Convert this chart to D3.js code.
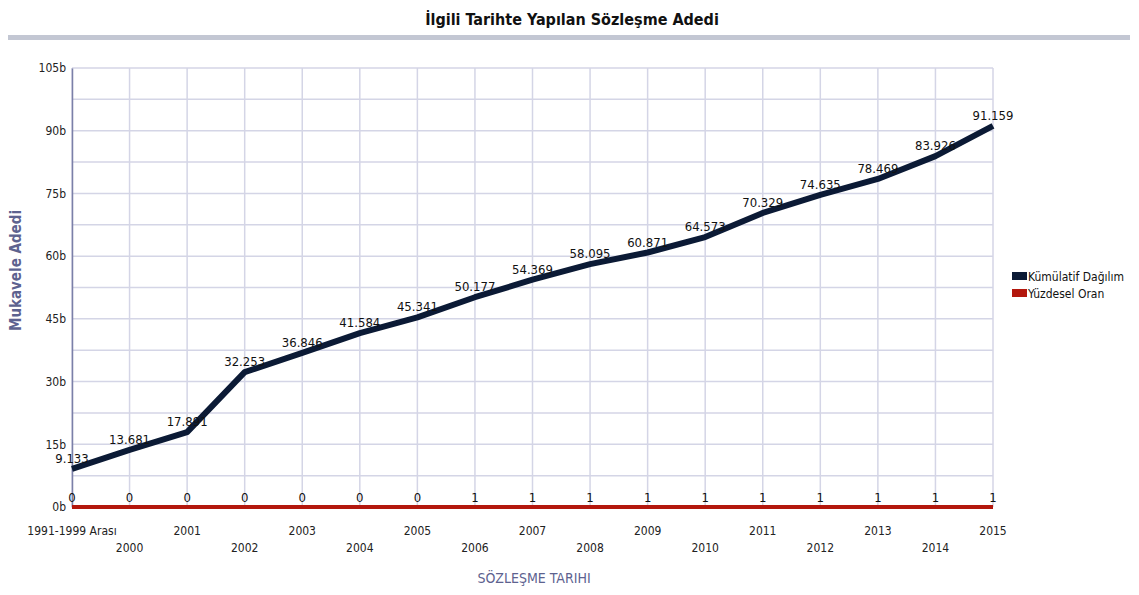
<!DOCTYPE html>
<html>
<head>
<meta charset="utf-8">
<script src="https://cdn.jsdelivr.net/npm/d3@7"></script>
<style>
  body { margin: 0; background: #fff; }
  text { font-family: "DejaVu Sans Condensed", "Liberation Sans Narrow", "Liberation Sans", Arial, sans-serif; font-stretch: condensed; }
  .tick text { font-size: 12px; fill: #222; }
</style>
</head>
<body>
<div id="chart"></div>
<script>
// Chart data
var categories = ["1991-1999 Arası", "2000", "2001", "2002", "2003", "2004", "2005", "2006",
  "2007", "2008", "2009", "2010", "2011", "2012", "2013", "2014", "2015"];
var kumulatif = [9133, 13681, 17891, 32253, 36846, 41584, 45341, 50177, 54369,
  58095, 60871, 64573, 70329, 74635, 78469, 83926, 91159];
var yuzdesel = [0, 0, 0, 0, 0, 0, 0, 1, 1, 1, 1, 1, 1, 1, 1, 1, 1];
var yTicks = [0, 15000, 30000, 45000, 60000, 75000, 90000, 105000];
var yTickLabels = ["0b", "15b", "30b", "45b", "60b", "75b", "90b", "105b"];
var seriesNames = ["Kümülatif Dağılım", "Yüzdesel Oran"];

var svgWidth = 1139;
var svgHeight = 595;
var margin = { top: 68, right: 146, bottom: 88, left: 72 };
var width = svgWidth - margin.left - margin.right;
var height = svgHeight - margin.top - margin.bottom;

var svg = d3.select("#chart")
  .append("svg")
  .attr("width", svgWidth)
  .attr("height", svgHeight);

// title + grey bar
svg.append("text")
  .attr("x", 572)
  .attr("y", 25)
  .attr("text-anchor", "middle")
  .style("font-size", "16px")
  .style("font-weight", "bold")
  .attr("fill", "#111")
  .text("İlgili Tarihte Yapılan Sözleşme Adedi");

svg.append("rect")
  .attr("x", 8).attr("y", 35)
  .attr("width", 1122).attr("height", 5)
  .attr("fill", "#c3c7d3");

var chartGroup = svg.append("g")
  .attr("transform", `translate(${margin.left}, ${margin.top})`);

var xScale = d3.scalePoint()
  .domain(categories)
  .range([0, width]);

var yScale = d3.scaleLinear()
  .domain([0, 105000])
  .range([height, 0]);

// gridlines (minor every 7.5b)
var gridVals = d3.range(0, 105001, 7500);
chartGroup.selectAll(".hgrid")
  .data(gridVals)
  .enter()
  .append("line")
  .attr("x1", 0).attr("x2", width)
  .attr("y1", d => yScale(d)).attr("y2", d => yScale(d))
  .attr("stroke", "#d4d5e6")
  .attr("stroke-width", 1.5);

chartGroup.selectAll(".vgrid")
  .data(categories)
  .enter()
  .append("line")
  .attr("x1", d => xScale(d)).attr("x2", d => xScale(d))
  .attr("y1", 0).attr("y2", height)
  .attr("stroke", "#d4d5e6")
  .attr("stroke-width", 1.5);

// left axis
var leftAxis = d3.axisLeft(yScale)
  .tickValues(yTicks)
  .tickFormat((d, i) => yTickLabels[i])
  .tickSize(0)
  .tickPadding(6);

var yAxisG = chartGroup.append("g").call(leftAxis);
yAxisG.select(".domain").attr("stroke", "#7b80a8").attr("stroke-width", 1.5);
yAxisG.selectAll(".tick text").style("font-family", null);

// bottom labels, staggered
chartGroup.selectAll(".xlab")
  .data(categories)
  .enter()
  .append("text")
  .attr("x", d => xScale(d))
  .attr("y", (d, i) => height + (i % 2 === 0 ? 28 : 45))
  .attr("text-anchor", "middle")
  .style("font-size", "12px")
  .attr("fill", "#222")
  .text(d => d);

// lines
var line1 = d3.line()
  .x((d, i) => xScale(categories[i]))
  .y(d => yScale(d));

chartGroup.append("path")
  .datum(yuzdesel)
  .attr("d", line1)
  .attr("fill", "none")
  .attr("stroke", "#b3170d")
  .attr("stroke-width", 4);

chartGroup.append("path")
  .datum(kumulatif)
  .attr("d", line1)
  .attr("fill", "none")
  .attr("stroke", "#0b1a35")
  .attr("stroke-width", 6)
  .attr("stroke-linejoin", "round");

// value labels
var fmt = d => d3.format(",")(d).replace(/,/g, ".");

chartGroup.selectAll(".vlab")
  .data(kumulatif)
  .enter()
  .append("text")
  .attr("x", (d, i) => xScale(categories[i]))
  .attr("y", d => yScale(d) - 6)
  .attr("text-anchor", "middle")
  .style("font-size", "13px")
  .attr("fill", "#111")
  .text(fmt);

chartGroup.selectAll(".plab")
  .data(yuzdesel)
  .enter()
  .append("text")
  .attr("x", (d, i) => xScale(categories[i]))
  .attr("y", d => yScale(d) - 5)
  .attr("text-anchor", "middle")
  .style("font-size", "13px")
  .attr("fill", "#111")
  .text(d => d);

// axis titles
chartGroup.append("text")
  .attr("transform", "rotate(-90)")
  .attr("x", -(height / 2) + 17)
  .attr("y", -51)
  .attr("text-anchor", "middle")
  .style("font-size", "15px")
  .style("font-weight", "bold")
  .attr("fill", "#5d628f")
  .text("Mukavele Adedi");

svg.append("text")
  .attr("x", 534)
  .attr("y", 583)
  .attr("text-anchor", "middle")
  .style("font-size", "14px")
  .attr("fill", "#5d628f")
  .text("SÖZLEŞME TARIHI");

// legend
var legendColors = ["#0b1a35", "#b3170d"];
var legend = svg.append("g").attr("transform", "translate(1012, 272)");
seriesNames.forEach(function (name, i) {
  legend.append("rect")
    .attr("x", 0).attr("y", i * 17)
    .attr("width", 15).attr("height", 8)
    .attr("fill", legendColors[i]);
  legend.append("text")
    .attr("x", 16).attr("y", i * 17 + 9)
    .style("font-size", "12px")
    .attr("fill", "#111")
    .text(name);
});
</script>
</body>
</html>
